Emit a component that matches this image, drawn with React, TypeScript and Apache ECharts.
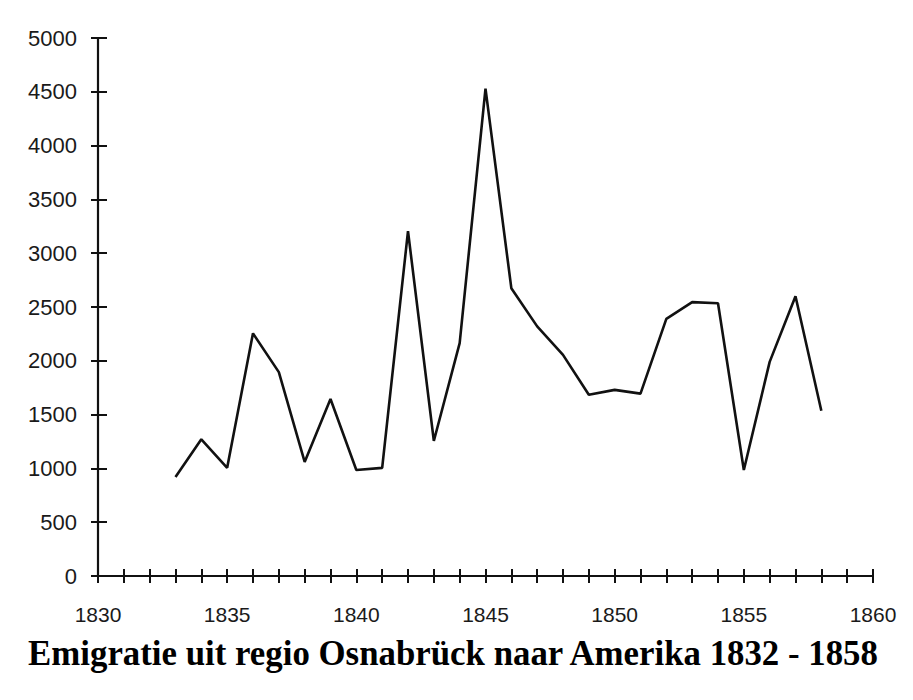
import React, { useEffect, useRef } from "react";
import * as echarts from "echarts";

const years = [1833, 1834, 1835, 1836, 1837, 1838, 1839, 1840, 1841, 1842, 1843, 1844, 1845, 1846, 1847, 1848, 1849, 1850, 1851, 1852, 1853, 1854, 1855, 1856, 1857, 1858];
const emigrants = [920, 1270, 1005, 2255, 1895, 1060, 1645, 985, 1005, 3205, 1255, 2165, 4530, 2675, 2320, 2055, 1685, 1730, 1695, 2390, 2545, 2535, 985, 1990, 2600, 1535];
const titleText = "Emigratie uit regio Osnabrück naar Amerika 1832 - 1858";

export default function App() {
  const ref = useRef<HTMLDivElement>(null);
  useEffect(() => {
    if (!ref.current) return;
    const chart = echarts.init(ref.current, null, { renderer: "svg" });
    const axisLine = { show: true, lineStyle: { color: "#111", width: 2.2 } };
    const tickStyle = { color: "#111", width: 2 };
    chart.setOption({
      animation: false,
      backgroundColor: "#fff",
      grid: { left: 98, right: 40, top: 38, bottom: 124 },
      xAxis: [
        {
          type: "value", min: 1830, max: 1860, interval: 1,
          axisLine, splitLine: { show: false },
          axisTick: { show: true, length: 7, lineStyle: tickStyle },
          axisLabel: {
            margin: 28, color: "#1a1a1a", fontSize: 21, fontFamily: "Liberation Sans",
            formatter: (v: number) => (v % 5 === 0 ? String(v) : ""),
          },
        },
        {
          type: "value", min: 1830, max: 1860, interval: 1, position: "bottom",
          axisLine: { show: false }, splitLine: { show: false },
          axisTick: { show: true, inside: true, length: 7, lineStyle: tickStyle },
          axisLabel: { show: false },
        },
      ],
      yAxis: [
        {
          type: "value", min: 0, max: 5000, interval: 500,
          axisLine, splitLine: { show: false },
          axisTick: { show: true, length: 7, lineStyle: tickStyle },
          axisLabel: {
            margin: 21, color: "#1a1a1a", fontSize: 22, fontFamily: "Liberation Sans",
            formatter: (v: number) => String(v),
          },
        },
        {
          type: "value", min: 0, max: 5000, interval: 500, position: "left",
          axisLine: { show: false }, splitLine: { show: false },
          axisTick: { show: true, inside: true, length: 9, lineStyle: tickStyle },
          axisLabel: { show: false },
        },
      ],
      series: [
        {
          type: "line",
          data: years.map((y, i) => [y, emigrants[i]]),
          showSymbol: false,
          lineStyle: { color: "#111", width: 2.6 },
          silent: true,
        },
      ],
      graphic: [
        {
          type: "text",
          x: 453, y: 653, scaleX: 0.995,
          style: {
            text: titleText,
            fill: "#000",
            font: 'bold 35px "Liberation Serif"',
            align: "center",
            verticalAlign: "middle",
          },
        },
      ],
    });
    return () => chart.dispose();
  }, []);
  return <div ref={ref} style={{ width: 913, height: 700, position: "absolute", left: 0, top: 0 }} />;
}
